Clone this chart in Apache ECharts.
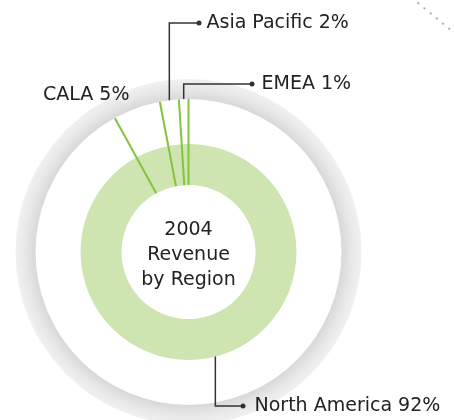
<!DOCTYPE html>
<html>
<head>
<meta charset="utf-8">
<title>2004 Revenue by Region</title>
<script src="https://cdn.jsdelivr.net/npm/echarts@6/dist/echarts.min.js"></script>
<style>
    html, body { margin: 0; padding: 0; background: #ffffff; }
    #chart { width: 454px; height: 420px; }
</style>
</head>
<body>
<div id="chart"></div>
<script>
// Data
const regions = ['EMEA', 'Asia Pacific', 'CALA', 'North America'];
const shares = [1, 2, 5, 92];
const centerTitle = ['2004', 'Revenue', 'by Region'];

// Layout (pixels)
const CX = 188.5, CY = 252;
const INNER = 67, DONUT = 108, RING_IN = 153, RING_OUT = 173;
const FONT = '"DejaVu Sans", Verdana, sans-serif';
const GREEN_FILL = '#cfe5b1';
const GREEN_LINE = '#84c33e';
const INK = '#222222';
const LEADER = '#333333';

// where each label sits: leader start radius (null = no leader), dot position, gap dot->text
const labelPlacement = [
    { from: RING_IN, dotX: 252, dotY: 84, gap: 7 },
    { from: RING_IN, dotX: 199, dotY: 23, gap: 5 },
    { from: null, textX: 43, textY: 95 },
    { from: DONUT, dotX: 243, dotY: 406, gap: 9 }
];

// cumulative boundaries (percent, counterclockwise from 12 o'clock)
const total = shares.reduce((a, b) => a + b, 0);
const bounds = [];
let acc = 0;
shares.forEach(v => { bounds.push(acc / total * 100); acc += v; });

function midShare(i) {
    return bounds[i] + shares[i] / total * 50;
}

const chart = echarts.init(document.getElementById('chart'));

const pieData = regions.map((name, i) => {
    const p = labelPlacement[i];
    const item = { name: name, value: shares[i] };
    item.label = {
        formatter: p.from === null ? '{t|{b} {c}%}' : '{dot|}{t' + i + '|{b} {c}%}'
    };
    return item;
});

const rich = {
    dot: { width: 5, height: 5, borderRadius: 2.5, backgroundColor: LEADER, verticalAlign: 'middle' },
    t: { fontFamily: FONT, fontSize: 19, color: INK, verticalAlign: 'middle' }
};
labelPlacement.forEach((p, i) => {
    rich['t' + i] = { fontFamily: FONT, fontSize: 19, color: INK, verticalAlign: 'middle', padding: [0, 0, 0, p.gap || 0] };
});

const separators = bounds.map(b => ({
    type: 'line',
    coordinateSystem: 'polar',
    silent: true,
    symbol: 'none',
    lineStyle: { color: GREEN_LINE, width: 2 },
    data: [[INNER, b], [RING_IN, b]]
}));

chart.setOption({
    animation: false,
    polar: { center: [CX, CY], radius: RING_IN },
    angleAxis: { type: 'value', min: 0, max: 100, startAngle: 90, clockwise: false, show: false },
    radiusAxis: { type: 'value', min: 0, max: RING_IN, show: false },
    graphic: [
        {
            id: 'centerText',
            type: 'text',
            x: CX,
            y: CY + 3,
            silent: true,
            style: {
                text: centerTitle.join('\n'),
                font: '19px ' + FONT,
                fill: INK,
                align: 'center',
                verticalAlign: 'middle',
                lineHeight: 25
            }
        },
        {
            id: 'dots',
            type: 'line',
            silent: true,
            shape: { x1: 412, y1: -2, x2: 458, y2: 36 },
            style: { stroke: '#b0b0b0', lineWidth: 2, lineDash: [0.5, 7.5], lineCap: 'round' }
        }
    ],
    series: [
        {
            // grey outer ring
            type: 'pie',
            silent: true,
            center: [CX, CY],
            radius: [RING_IN, RING_OUT],
            label: { show: false },
            labelLine: { show: false },
            itemStyle: {
                color: {
                    type: 'radial', x: CX, y: CY, r: RING_OUT, global: true,
                    colorStops: [
                        { offset: RING_IN / RING_OUT, color: '#d8d8d8' },
                        { offset: 0.94, color: '#e7e7e7' },
                        { offset: 1, color: '#f1f1f1' }
                    ]
                }
            },
            data: [{ name: 'total', value: total }]
        },
        {
            type: 'pie',
            silent: true,
            center: [CX, CY],
            radius: [INNER, DONUT],
            startAngle: 90,
            clockwise: false,
            avoidLabelOverlap: false,
            itemStyle: { color: GREEN_FILL },
            label: { show: true, position: 'outside', rich: rich },
            labelLine: { show: false },
            labelLayout: function (params) {
                const p = labelPlacement[params.dataIndex];
                if (p.from === null) {
                    return { x: p.textX, y: p.textY, align: 'left', verticalAlign: 'middle' };
                }
                return { x: p.dotX - 2.5, y: p.dotY, align: 'left', verticalAlign: 'middle' };
            },
            data: pieData
        }
    ].concat(separators)
});

// leader lines: start on the ring at each slice's middle, then up/down and across to the dot
const leaders = [];
labelPlacement.forEach((p, i) => {
    if (p.from === null) return;
    const s = chart.convertToPixel({ polarIndex: 0 }, [p.from, midShare(i)]);
    leaders.push({
        id: 'leader' + i,
        type: 'polyline',
        silent: true,
        z: 10,
        shape: { points: [[s[0], s[1]], [s[0], p.dotY], [p.dotX, p.dotY]] },
        style: { stroke: LEADER, lineWidth: 1.5, fill: null }
    });
});
chart.setOption({ graphic: leaders });
</script>
</body>
</html>
